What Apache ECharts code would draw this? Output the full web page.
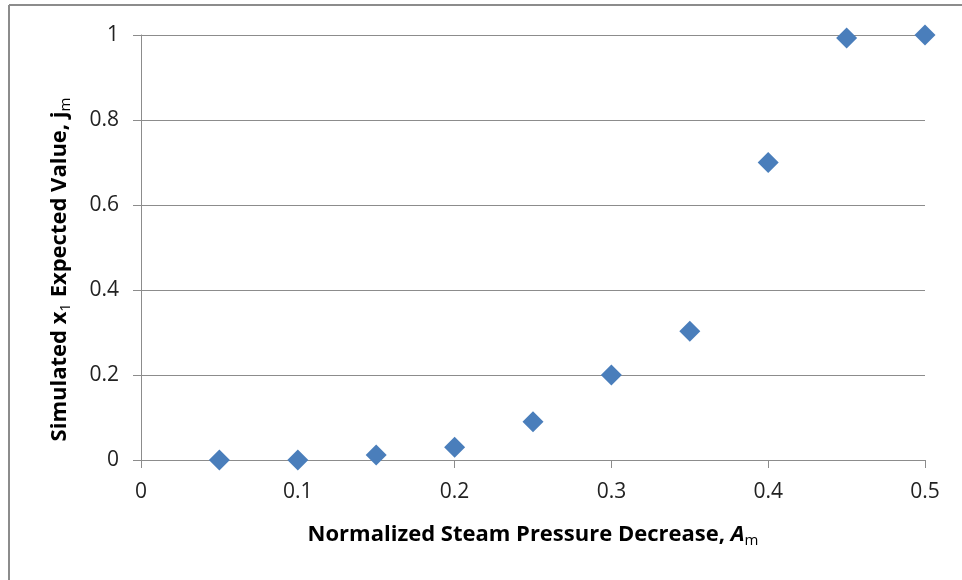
<!doctype html>
<html>
<head>
	<meta charset="utf-8">
	<script src="https://cdn.jsdelivr.net/npm/echarts@6/dist/echarts.min.js"></script>
	<style>
		html, body { margin: 0; padding: 0; background: #fff; }
		#chart { width: 962px; height: 580px; }
	</style>
</head>
<body>
	<div id="chart"></div>
	<script type="text/javascript">
		// values
		var pressureDecrease = [0.05, 0.1, 0.15, 0.2, 0.25, 0.3, 0.35, 0.4, 0.45, 0.5];
		var expectedValue = [0, 0, 0.012, 0.03, 0.09, 0.2, 0.303, 0.70, 0.993, 1.0];
		var xTicks = [0, 0.1, 0.2, 0.3, 0.4, 0.5];
		var yTicks = [0, 0.2, 0.4, 0.6, 0.8, 1];

		var font = '"Open Sans", "DejaVu Sans", sans-serif';
		var myChart = echarts.init(document.getElementById('chart'));
		var points = pressureDecrease.map(function(v, i) { return [v, expectedValue[i]]; });

		option = {
			animation: false,
			backgroundColor: '#fff',
			grid: { left: 141, right: 37, top: 35, bottom: 120 },
			graphic: [
				{ type: 'line', shape: { x1: 9, y1: 5, x2: 962, y2: 5 }, style: { stroke: '#8c8c8c', lineWidth: 2 } },
				{ type: 'line', shape: { x1: 9, y1: 5, x2: 9, y2: 580 }, style: { stroke: '#8c8c8c', lineWidth: 2 } }
			],
			xAxis: {
				type: 'value',
				min: 0,
				max: 0.5,
				interval: 0.1,
				name: '{b|Normalized Steam Pressure Decrease, }{i|A}{s|m}',
				nameLocation: 'middle',
				nameGap: 61,
				nameTextStyle: {
					rich: {
						b: { fontFamily: font, fontWeight: 'bold', fontSize: 22, color: '#000' },
						i: { fontFamily: font, fontWeight: 'bold', fontStyle: 'italic', fontSize: 22, color: '#000' },
						s: { fontFamily: font, fontSize: 15, color: '#000', padding: [12, 0, 0, 0] }
					}
				},
				axisLine: { show: true, onZero: false, lineStyle: { color: '#8c8c8c', width: 1 } },
				axisTick: { show: true, length: 8, lineStyle: { color: '#8c8c8c' } },
				splitLine: { show: false },
				axisLabel: {
					margin: 22,
					fontFamily: font,
					fontSize: 21,
					color: '#222',
					formatter: function(v) { return xTicks.indexOf(+v.toFixed(1)) >= 0 ? String(+v.toFixed(1)) : ''; }
				}
			},
			yAxis: {
				type: 'value',
				min: 0,
				max: 1,
				interval: 0.2,
				name: '{b|Simulated x}{s|1}{b| Expected Value, j}{s|m}',
				nameLocation: 'middle',
				nameGap: 68,
				nameTextStyle: {
					padding: [0, 44, 0, 0],
					rich: {
						b: { fontFamily: font, fontWeight: 'bold', fontSize: 22, color: '#000' },
						s: { fontFamily: font, fontSize: 15, color: '#000', padding: [12, 0, 0, 0] }
					}
				},
				axisLine: { show: true, lineStyle: { color: '#8c8c8c', width: 1 } },
				axisTick: { show: true, length: 8, lineStyle: { color: '#8c8c8c' } },
				splitLine: { show: true, lineStyle: { color: '#8c8c8c', width: 1 } },
				axisLabel: {
					margin: 22,
					fontFamily: font,
					fontSize: 21,
					color: '#222',
					formatter: function(v) { return yTicks.indexOf(+v.toFixed(1)) >= 0 ? String(+v.toFixed(1)) : ''; }
				}
			},
			series: [{
				type: 'scatter',
				data: points,
				symbol: 'diamond',
				symbolSize: 21,
				itemStyle: { color: '#4a7ebb', opacity: 1 }
			}]
		};
		myChart.setOption(option);
	</script>
</body>
</html>
